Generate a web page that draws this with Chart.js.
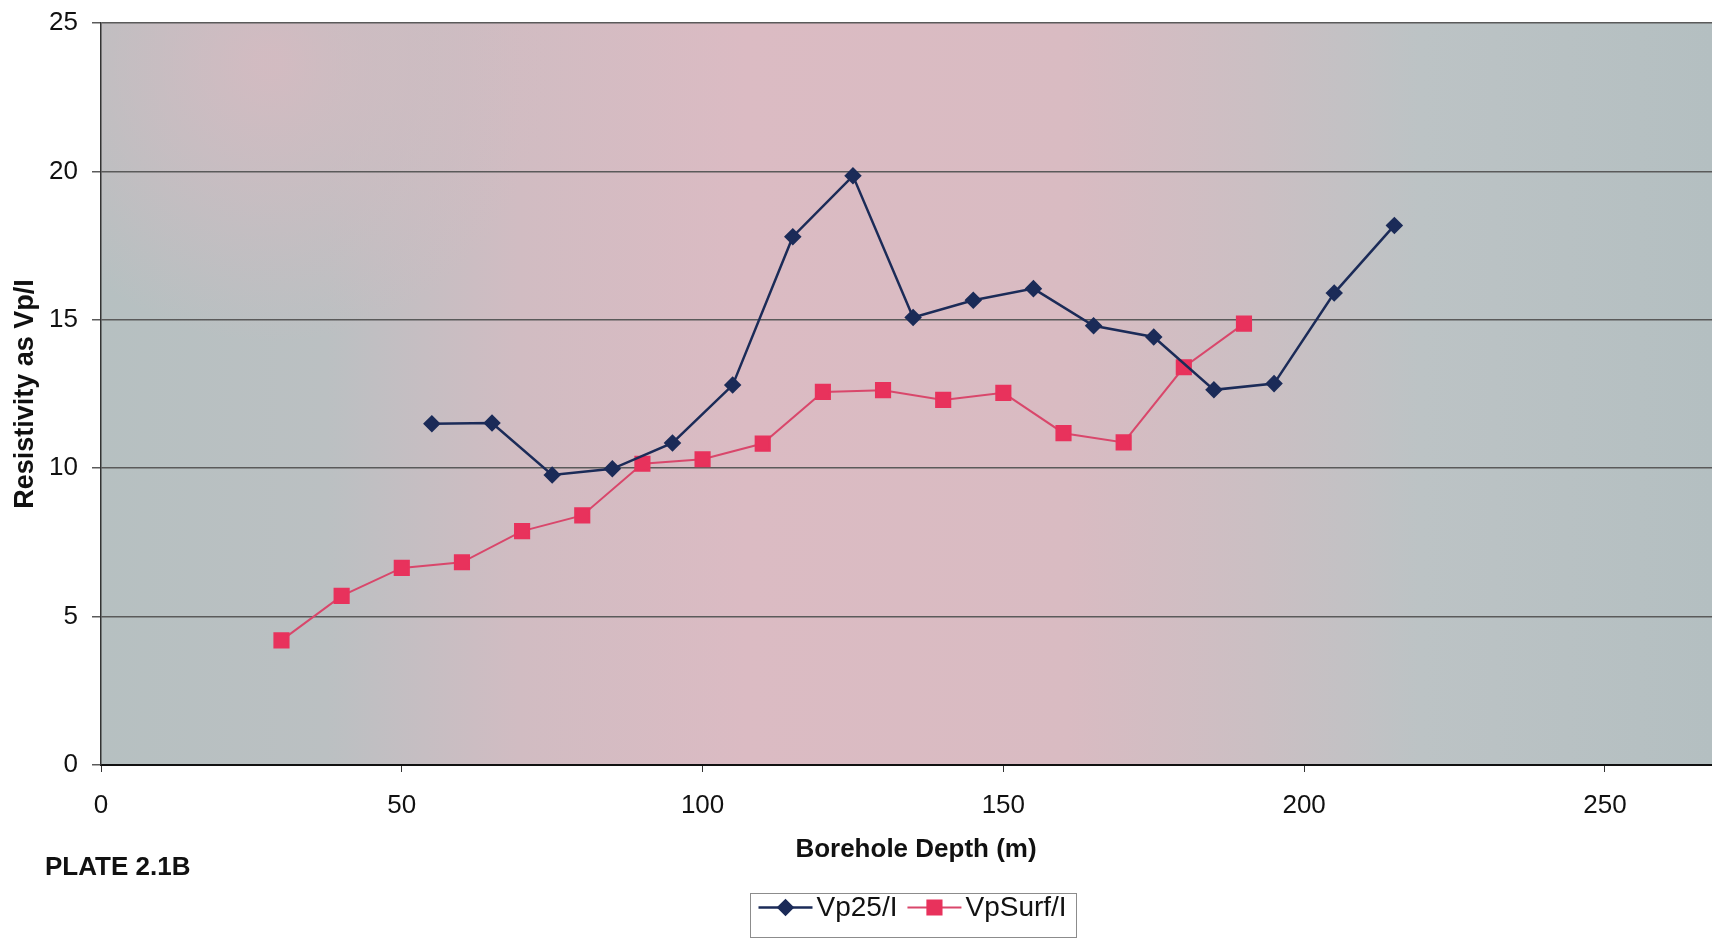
<!DOCTYPE html>
<html>
<head>
<meta charset="utf-8">
<title>Resistivity vs Borehole Depth</title>
<script src="https://cdn.jsdelivr.net/npm/chart.js@4/dist/chart.umd.min.js"></script>
<style>
  html, body { margin: 0; padding: 0; background: #ffffff; }
  #wrap { width: 1712px; height: 938px; position: relative; }
</style>
</head>
<body>
<div id="wrap"><canvas id="chart" width="1712" height="938"></canvas></div>
<script>
// Depths (m) and resistivity readings for each electrode configuration
const depthsVp25 = [55, 65, 75, 85, 95, 105, 115, 125, 135, 145, 155, 165, 175, 185, 195, 205, 215];
const vp25 = [11.5, 11.52, 9.77, 9.98, 10.85, 12.8, 17.8, 19.85, 15.08, 15.66, 16.05, 14.8, 14.42, 12.64, 12.85, 15.9, 18.18];

const depthsSurf = [30, 40, 50, 60, 70, 80, 90, 100, 110, 120, 130, 140, 150, 160, 170, 180, 190];
const vpSurf = [4.2, 5.7, 6.64, 6.83, 7.88, 8.41, 10.15, 10.3, 10.83, 12.57, 12.63, 12.3, 12.54, 11.18, 10.87, 13.4, 14.87];

const xTicks = [0, 50, 100, 150, 200, 250];
const yTicks = [0, 5, 10, 15, 20, 25];

const seriesNames = ['Vp25/I', 'VpSurf/I'];
const xTitle = 'Borehole Depth (m)';
const yTitle = 'Resistivity as Vp/I';
const plateLabel = 'PLATE 2.1B';

const FONT = '"Liberation Sans", Arial, Helvetica, sans-serif';
const toPoints = (xs, ys) => xs.map((x, i) => ({ x: x, y: ys[i] }));

// Mottled grey/pink plot-area fill
const plotBackground = {
  id: 'plotBackground',
  beforeDraw(chart) {
    const { ctx, chartArea: a } = chart;
    ctx.save();
    const g = ctx.createLinearGradient(a.left, 0, a.right, 0);
    g.addColorStop(0.00, '#b6c0c1');
    g.addColorStop(0.14, '#bbc0c2');
    g.addColorStop(0.26, '#d1bcc2');
    g.addColorStop(0.40, '#dbbbc3');
    g.addColorStop(0.60, '#d9bbc2');
    g.addColorStop(0.72, '#cbbfc3');
    g.addColorStop(0.82, '#bcc3c5');
    g.addColorStop(1.00, '#b4bfc1');
    ctx.fillStyle = g;
    ctx.fillRect(a.left, a.top, a.right - a.left, a.bottom - a.top);
    // pinkish haze in the upper-left corner
    const r = ctx.createRadialGradient(a.left + 170, a.top + 40, 10, a.left + 170, a.top + 40, 280);
    r.addColorStop(0, 'rgba(216,186,193,0.8)');
    r.addColorStop(1, 'rgba(216,186,193,0)');
    ctx.fillStyle = r;
    ctx.fillRect(a.left, a.top, a.right - a.left, a.bottom - a.top);
    ctx.restore();
  }
};

// Boxed legend with line-and-marker samples, the x-axis title and the plate caption
const boxedLegend = {
  id: 'boxedLegend',
  afterDraw(chart) {
    const { ctx } = chart;
    const h = Chart.helpers;
    ctx.save();

    ctx.font = 'bold 26px ' + FONT;
    ctx.fillStyle = '#111111';
    ctx.textAlign = 'center';
    ctx.textBaseline = 'middle';
    ctx.fillText(xTitle, 916, 850);

    const box = { x: 750.5, y: 893.5, w: 326, h: 44 };
    ctx.fillStyle = '#ffffff';
    ctx.fillRect(box.x, box.y, box.w, box.h);
    ctx.strokeStyle = '#8c8c8c';
    ctx.lineWidth = 1;
    ctx.strokeRect(box.x, box.y, box.w, box.h);

    ctx.font = '28px ' + FONT;
    ctx.textBaseline = 'middle';
    ctx.textAlign = 'left';
    const cy = box.y + 14;
    let x = box.x + 8;
    chart.data.datasets.forEach((ds) => {
      ctx.strokeStyle = ds.borderColor;
      ctx.lineWidth = ds.borderWidth;
      ctx.beginPath();
      ctx.moveTo(x, cy);
      ctx.lineTo(x + 54, cy);
      ctx.stroke();
      ctx.fillStyle = ds.pointBackgroundColor;
      ctx.strokeStyle = ds.pointBorderColor;
      h.drawPoint(ctx, { pointStyle: ds.pointStyle, radius: ds.pointRadius, rotation: 0, borderWidth: 1 }, x + 27, cy);
      ctx.fillStyle = '#111111';
      ctx.fillText(ds.label, x + 58, cy + 1);
      x += 58 + ctx.measureText(ds.label).width + 10;
    });

    ctx.font = 'bold 26px ' + FONT;
    ctx.textBaseline = 'alphabetic';
    ctx.fillStyle = '#111111';
    ctx.fillText(plateLabel, 45, 875);
    ctx.restore();
  }
};

new Chart(document.getElementById('chart'), {
  type: 'line',
  data: {
    datasets: [
      {
        label: seriesNames[0],
        data: toPoints(depthsVp25, vp25),
        borderColor: '#1b2b58',
        borderWidth: 2.5,
        pointStyle: 'rectRot',
        pointRadius: 7,
        pointBackgroundColor: '#1b2b58',
        pointBorderColor: '#1b2b58',
        tension: 0,
        fill: false
      },
      {
        label: seriesNames[1],
        data: toPoints(depthsSurf, vpSurf),
        borderColor: '#d9476b',
        borderWidth: 2,
        pointStyle: 'rect',
        pointRadius: 10,
        pointBackgroundColor: '#e8325c',
        pointBorderColor: '#e8325c',
        tension: 0,
        fill: false
      }
    ]
  },
  options: {
    responsive: false,
    animation: false,
    devicePixelRatio: 1,
    layout: { autoPadding: false, padding: { top: 23, left: 0, right: 0, bottom: 0 } },
    plugins: {
      legend: { display: false },
      tooltip: { enabled: false },
      title: { display: false }
    },
    scales: {
      x: {
        type: 'linear',
        position: 'bottom',
        min: 0,
        max: 267.8,
        afterBuildTicks: (s) => { s.ticks = xTicks.map(v => ({ value: v })); },
        afterFit: (s) => { s.height = 173; s.paddingLeft = 0; s.paddingRight = 0; },
        grid: { drawOnChartArea: false, drawTicks: true, tickLength: 7, color: '#333333', lineWidth: 1 },
        border: { display: true, color: '#111111', width: 2 },
        ticks: { font: { family: FONT, size: 26 }, color: '#111111', padding: 18, maxRotation: 0 },
        title: { display: false }
      },
      y: {
        type: 'linear',
        min: 0,
        max: 25,
        afterBuildTicks: (s) => { s.ticks = yTicks.map(v => ({ value: v })); },
        afterFit: (s) => { s.width = 101; s.paddingTop = 0; s.paddingBottom = 0; },
        grid: { color: '#5a5a5a', lineWidth: 1.5, drawTicks: true, tickLength: 9 },
        border: { display: true, color: '#333333', width: 1.5 },
        ticks: { font: { family: FONT, size: 26 }, color: '#111111', padding: 14 },
        title: {
          display: true,
          text: yTitle,
          font: { family: FONT, size: 27, weight: 'bold' },
          color: '#111111',
          padding: { top: 9, bottom: 0 }
        }
      }
    }
  },
  plugins: [plotBackground, boxedLegend]
});
</script>
</body>
</html>
